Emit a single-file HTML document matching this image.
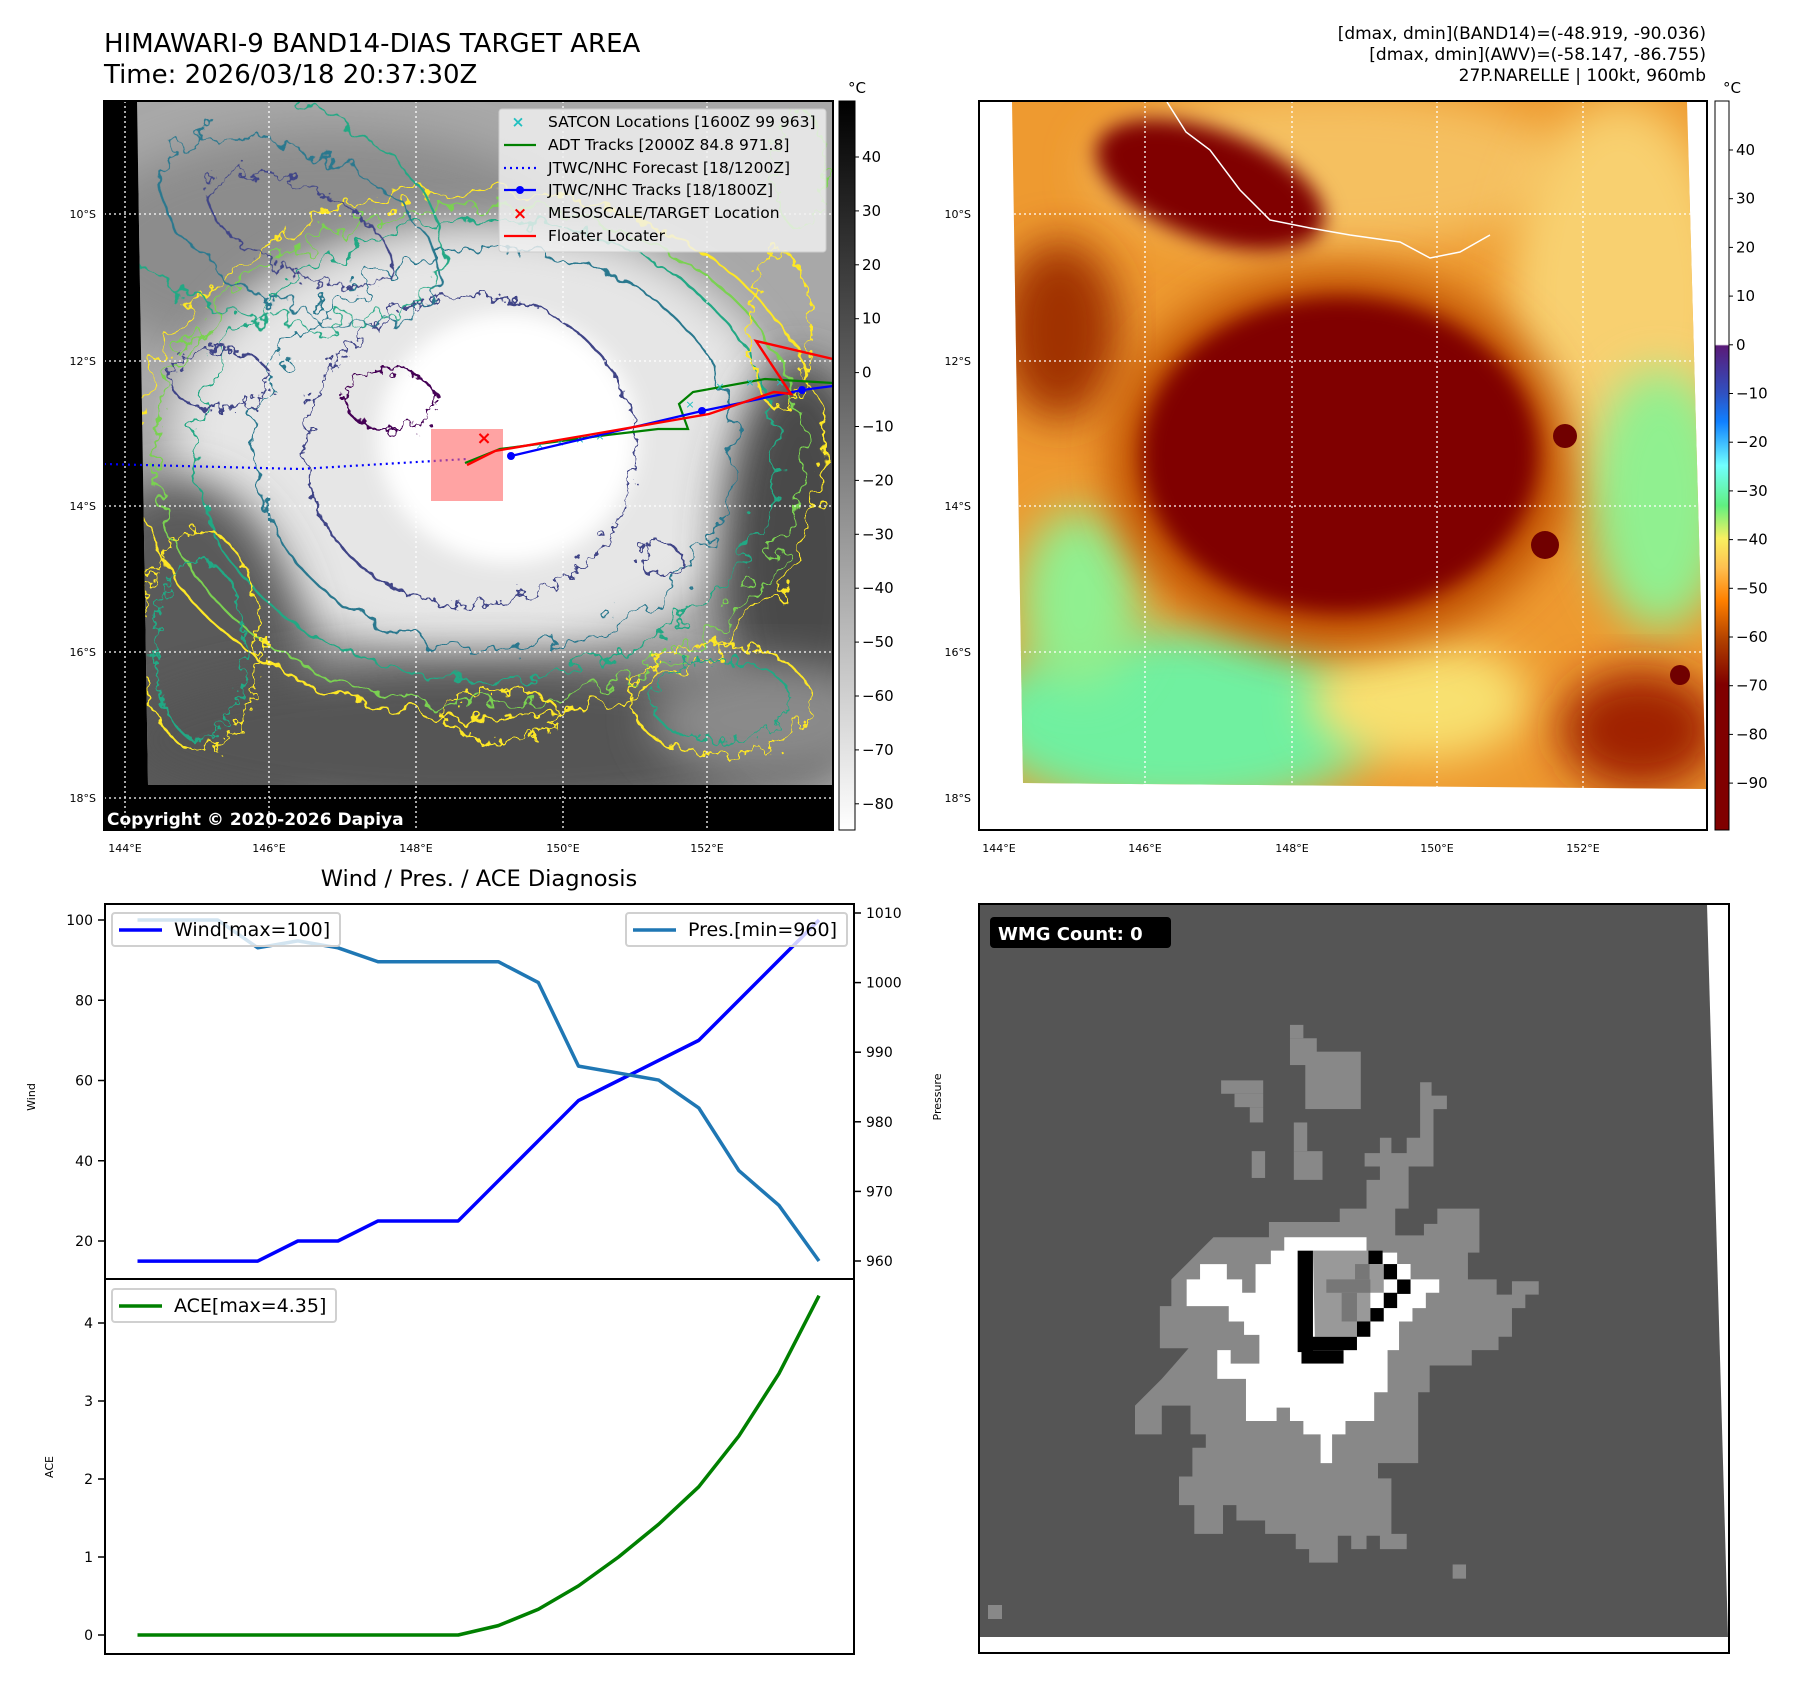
<!DOCTYPE html>
<html><head><meta charset="utf-8"><style>
html,body{margin:0;padding:0;background:#fff}
svg{display:block;font-family:"DejaVu Sans","Liberation Sans",sans-serif}
</style></head><body>
<svg id="root" width="1797" height="1690" viewBox="0 0 1797 1690" xmlns="http://www.w3.org/2000/svg">
<defs>
 <filter id="wob" x="-20%" y="-20%" width="140%" height="140%"><feTurbulence type="fractalNoise" baseFrequency="0.045" numOctaves="3" seed="4"/><feDisplacementMap in="SourceGraphic" scale="40"/></filter>
 <filter id="wob2" x="-20%" y="-20%" width="140%" height="140%"><feTurbulence type="fractalNoise" baseFrequency="0.08" numOctaves="3" seed="9"/><feDisplacementMap in="SourceGraphic" scale="26"/></filter>
 <filter id="bl" x="-30%" y="-30%" width="160%" height="160%"><feGaussianBlur stdDeviation="22"/></filter>
 <filter id="bl2" x="-30%" y="-30%" width="160%" height="160%"><feGaussianBlur stdDeviation="10"/></filter>
 <linearGradient id="cb1" x1="0" y1="0" x2="0" y2="1"><stop offset="0" stop-color="#000"/><stop offset="1" stop-color="#fff"/></linearGradient>
 <linearGradient id="cb2" x1="0" y1="0" x2="0" y2="1">
  <stop offset="0" stop-color="#fff"/><stop offset="0.334" stop-color="#fff"/><stop offset="0.336" stop-color="#5a1a78"/>
  <stop offset="0.40" stop-color="#3050c0"/><stop offset="0.44" stop-color="#1080ff"/><stop offset="0.50" stop-color="#70ffff"/>
  <stop offset="0.555" stop-color="#60f080"/><stop offset="0.60" stop-color="#f8f060"/><stop offset="0.64" stop-color="#ffc050"/>
  <stop offset="0.685" stop-color="#ff8000"/><stop offset="0.74" stop-color="#b04000"/><stop offset="0.80" stop-color="#800000"/><stop offset="1" stop-color="#800000"/>
 </linearGradient>
 <radialGradient id="bright"><stop offset="0" stop-color="#fff"/><stop offset="0.55" stop-color="#f4f4f4"/><stop offset="1" stop-color="#f4f4f4" stop-opacity="0"/></radialGradient>
 <clipPath id="c1"><polygon points="137,101 833,101 833,785 148,785"/></clipPath>
 <clipPath id="c2"><polygon points="1012,102 1687,102 1706,789 1023,783"/></clipPath>
 <clipPath id="c3"><polygon points="979,904 1707,904 1728,1637 979,1637"/></clipPath>
</defs>

<text x="104" y="52" font-size="26">HIMAWARI-9 BAND14-DIAS TARGET AREA</text>
<text x="104" y="83" font-size="26">Time: 2026/03/18 20:37:30Z</text>
<g font-size="17" text-anchor="end">
 <text x="1706" y="39">[dmax, dmin](BAND14)=(-48.919, -90.036)</text>
 <text x="1706" y="60">[dmax, dmin](AWV)=(-58.147, -86.755)</text>
 <text x="1706" y="81">27P.NARELLE | 100kt, 960mb</text>
</g>

<g>
 <rect x="104" y="101" width="729" height="729" fill="#000"/>
 <g clip-path="url(#c1)">
  <rect x="130" y="101" width="710" height="690" fill="#a8a8a8"/>
  <ellipse cx="330" cy="250" rx="260" ry="120" fill="#8c8c8c" filter="url(#bl)"/>
  <ellipse cx="480" cy="440" rx="330" ry="230" fill="url(#bright)"/>
  <ellipse cx="480" cy="440" rx="300" ry="210" fill="#e6e6e6" filter="url(#bl)"/>
  <ellipse cx="180" cy="700" rx="130" ry="220" fill="#5a5a5a" filter="url(#bl)"/>
  <ellipse cx="480" cy="740" rx="360" ry="80" fill="#555" filter="url(#bl)"/>
  <ellipse cx="800" cy="560" rx="80" ry="200" fill="#4a4a4a" filter="url(#bl)"/>
  <ellipse cx="770" cy="720" rx="120" ry="60" fill="#8a8a8a" filter="url(#bl)"/>
  <ellipse cx="508" cy="438" rx="130" ry="125" fill="#fff" filter="url(#bl2)"/>
  <g fill="none" stroke-width="2.2">
   <ellipse cx="480" cy="455" rx="345" ry="265" stroke="#fde725" filter="url(#wob)"/>
   <ellipse cx="480" cy="455" rx="325" ry="250" stroke="#7ad151" filter="url(#wob)"/>
   <ellipse cx="485" cy="450" rx="290" ry="230" stroke="#22a884" filter="url(#wob)"/>
   <ellipse cx="495" cy="450" rx="240" ry="200" stroke="#2a788e" filter="url(#wob)"/>
   <ellipse cx="470" cy="450" rx="165" ry="155" stroke="#414487" filter="url(#wob2)"/>
   <ellipse cx="300" cy="230" rx="100" ry="42" transform="rotate(25 300 230)" stroke="#414487" filter="url(#wob2)"/>
   <ellipse cx="300" cy="230" rx="150" ry="75" transform="rotate(25 300 230)" stroke="#2a788e" filter="url(#wob)"/>
   <ellipse cx="250" cy="200" rx="200" ry="110" transform="rotate(20 250 200)" stroke="#22a884" filter="url(#wob)"/>
   <ellipse cx="390" cy="400" rx="45" ry="30" stroke="#440154" filter="url(#wob2)"/>
   <ellipse cx="220" cy="380" rx="50" ry="30" stroke="#414487" filter="url(#wob2)"/>
   <ellipse cx="200" cy="640" rx="60" ry="110" stroke="#fde725" filter="url(#wob2)"/>
   <ellipse cx="200" cy="650" rx="45" ry="90" stroke="#22a884" filter="url(#wob2)"/>
   <ellipse cx="720" cy="700" rx="90" ry="55" stroke="#fde725" filter="url(#wob2)"/>
   <ellipse cx="720" cy="700" rx="70" ry="40" stroke="#22a884" filter="url(#wob2)"/>
   <ellipse cx="500" cy="715" rx="60" ry="25" stroke="#fde725" filter="url(#wob2)"/>
   <ellipse cx="780" cy="330" rx="30" ry="80" stroke="#fde725" filter="url(#wob2)"/>
   <ellipse cx="800" cy="170" rx="25" ry="60" stroke="#7ad151" filter="url(#wob2)"/>
   <ellipse cx="660" cy="560" rx="22" ry="16" stroke="#414487" filter="url(#wob2)"/>
  </g>
 </g>
 <g stroke="#fff" stroke-width="1.3" stroke-dasharray="2,3">
  <line x1="125" y1="101" x2="125" y2="830"/><line x1="269" y1="101" x2="269" y2="830"/><line x1="416" y1="101" x2="416" y2="830"/><line x1="563" y1="101" x2="563" y2="830"/><line x1="707" y1="101" x2="707" y2="830"/>
  <line x1="104" y1="214" x2="833" y2="214"/><line x1="104" y1="361" x2="833" y2="361"/><line x1="104" y1="506" x2="833" y2="506"/><line x1="104" y1="652" x2="833" y2="652"/><line x1="104" y1="798" x2="833" y2="798"/>
 </g>
 <polyline points="104,464 300,469 467,459" fill="none" stroke="#0000ff" stroke-width="2.2" stroke-dasharray="2,4"/>
 <rect x="431" y="429" width="72" height="72" fill="#ff6666" fill-opacity="0.6"/>
 <polyline points="465,463 500,449 607,435 658,429 688,429 679,404 693,392 765,379 833,383" fill="none" stroke="#008000" stroke-width="2.2"/>
 <g fill="#20c0c0" font-size="11" text-anchor="middle">
  <text x="540" y="449">×</text><text x="560" y="446">×</text><text x="580" y="443">×</text><text x="600" y="440">×</text><text x="690" y="408">×</text><text x="720" y="390">×</text><text x="750" y="386">×</text><text x="780" y="386">×</text>
 </g>
 <polyline points="511,456 702,411 802,390 833,386" fill="none" stroke="#0000ff" stroke-width="2.2"/>
 <g fill="#0000ff"><circle cx="511" cy="456" r="4"/><circle cx="702" cy="411" r="4"/><circle cx="802" cy="390" r="4"/></g>
 <polyline points="467,465 495,451 588,435 709,414 774,392 791,394 756,341 833,359" fill="none" stroke="#ff0000" stroke-width="2.4"/>
 <text x="484" y="444" fill="#ff0000" font-size="18" font-weight="bold" text-anchor="middle">×</text>
 <g>
  <rect x="499" y="109" width="327" height="143" rx="3" fill="#f2f2f2" fill-opacity="0.82" stroke="#ccc"/>
  <g font-size="15.5">
   <text x="518" y="127" fill="#20c0c0" font-weight="bold" text-anchor="middle">×</text><text x="548" y="127">SATCON Locations [1600Z 99 963]</text>
   <line x1="504" y1="145" x2="536" y2="145" stroke="#008000" stroke-width="2.2"/><text x="548" y="150">ADT Tracks [2000Z 84.8 971.8]</text>
   <line x1="504" y1="168" x2="536" y2="168" stroke="#0000ff" stroke-width="2.2" stroke-dasharray="2,4"/><text x="548" y="173">JTWC/NHC Forecast [18/1200Z]</text>
   <line x1="504" y1="190" x2="536" y2="190" stroke="#0000ff" stroke-width="2.2"/><circle cx="520" cy="190" r="4" fill="#0000ff"/><text x="548" y="195">JTWC/NHC Tracks [18/1800Z]</text>
   <text x="520" y="219" fill="#ff0000" font-weight="bold" font-size="17" text-anchor="middle">×</text><text x="548" y="218">MESOSCALE/TARGET Location</text>
   <line x1="504" y1="236" x2="536" y2="236" stroke="#ff0000" stroke-width="2.2"/><text x="548" y="241">Floater Locater</text>
  </g>
 </g>
 <text x="107" y="825" fill="#fff" font-size="17" font-weight="bold">Copyright © 2020-2026 Dapiya</text>
 <rect x="104" y="101" width="729" height="729" fill="none" stroke="#000" stroke-width="2"/>
</g>
<g font-size="11">
 <g text-anchor="end"><text x="96" y="218">10°S</text><text x="96" y="365">12°S</text><text x="96" y="510">14°S</text><text x="96" y="656">16°S</text><text x="96" y="802">18°S</text></g>
 <g text-anchor="middle"><text x="125" y="852">144°E</text><text x="269" y="852">146°E</text><text x="416" y="852">148°E</text><text x="563" y="852">150°E</text><text x="707" y="852">152°E</text></g>
</g>
<g>
 <rect x="839" y="101" width="16" height="729" fill="url(#cb1)" stroke="#000" stroke-width="1"/>
 <text x="848" y="93" font-size="15">°C</text>
 <g font-size="15" id="cb1labels"></g>
</g>

<g>
 <rect x="979" y="101" width="728" height="729" fill="#fff"/>
 <g clip-path="url(#c2)">
  <rect x="1000" y="100" width="720" height="700" fill="#ee9a30"/>
  <ellipse cx="1330" cy="170" rx="240" ry="80" fill="#f5c060" filter="url(#bl)"/>
  <ellipse cx="1620" cy="300" rx="110" ry="200" fill="#f8d070" filter="url(#bl)"/>
  <ellipse cx="1180" cy="720" rx="200" ry="90" fill="#70f0a0" filter="url(#bl)"/>
  <ellipse cx="1080" cy="600" rx="60" ry="90" fill="#90f090" filter="url(#bl)"/>
  <ellipse cx="1660" cy="500" rx="70" ry="130" fill="#90f090" filter="url(#bl)"/>
  <ellipse cx="1420" cy="700" rx="110" ry="60" fill="#f8e070" filter="url(#bl)"/>
  <ellipse cx="1640" cy="730" rx="80" ry="60" fill="#a02000" filter="url(#bl)"/>
  <ellipse cx="1060" cy="330" rx="60" ry="90" fill="#a03000" filter="url(#bl)"/>
  <ellipse cx="1210" cy="185" rx="120" ry="55" transform="rotate(20 1210 185)" fill="#800000" filter="url(#bl2)"/>
  <ellipse cx="1340" cy="460" rx="230" ry="190" fill="#c05000" filter="url(#bl)"/>
  <ellipse cx="1340" cy="455" rx="198" ry="158" fill="#800000" filter="url(#bl2)"/>
  <circle cx="1565" cy="436" r="12" fill="#700000"/><circle cx="1545" cy="545" r="14" fill="#700000"/><circle cx="1680" cy="675" r="10" fill="#700000"/>
 </g>
 <g stroke="#fff" stroke-width="1.3" stroke-dasharray="2,3">
  <line x1="999" y1="101" x2="999" y2="830"/><line x1="1145" y1="101" x2="1145" y2="830"/><line x1="1292" y1="101" x2="1292" y2="830"/><line x1="1437" y1="101" x2="1437" y2="830"/><line x1="1583" y1="101" x2="1583" y2="830"/>
  <line x1="979" y1="214" x2="1707" y2="214"/><line x1="979" y1="361" x2="1707" y2="361"/><line x1="979" y1="506" x2="1707" y2="506"/><line x1="979" y1="652" x2="1707" y2="652"/>
 </g>
 <polyline points="1167,102 1186,132 1210,150 1240,190 1270,220 1310,228 1350,235 1400,242 1430,258 1460,252 1490,235" fill="none" stroke="#fff" stroke-width="1.5"/>
 <rect x="979" y="101" width="728" height="729" fill="none" stroke="#000" stroke-width="2"/>
</g>
<g font-size="11">
 <g text-anchor="end"><text x="971" y="218">10°S</text><text x="971" y="365">12°S</text><text x="971" y="510">14°S</text><text x="971" y="656">16°S</text><text x="971" y="802">18°S</text></g>
 <g text-anchor="middle"><text x="999" y="852">144°E</text><text x="1145" y="852">146°E</text><text x="1292" y="852">148°E</text><text x="1437" y="852">150°E</text><text x="1583" y="852">152°E</text></g>
</g>
<g>
 <rect x="1715" y="101" width="14" height="729" fill="url(#cb2)" stroke="#000" stroke-width="1"/>
 <text x="1723" y="93" font-size="15">°C</text>
 <g font-size="15" id="cb2labels"></g>
</g>

<text x="479" y="886" font-size="22.5" text-anchor="middle">Wind / Pres. / ACE Diagnosis</text>
<g id="chart"></g>

<g>
 <rect x="979" y="904" width="750" height="749" fill="#fff"/>
 <g clip-path="url(#c3)">
  <rect x="979" y="904" width="760" height="740" fill="#555"/>
  <g transform="translate(980,1000) scale(0.3827)">
   <polygon fill="#888" points="405,1060 440,1025 475,990 510,950 545,910 470,910 470,800 500,800 500,730 540,690 575,655 610,620 755,620 755,580 940,580 940,545 1010,545 1010,470 1045,470 1045,435 1005,435 1005,400 1045,400 1045,360 1075,360 1075,400 1115,400 1115,360 1150,360 1150,215 1180,215 1180,250 1220,250 1220,285 1185,285 1185,435 1120,435 1120,545 1085,545 1085,615 1160,615 1160,585 1195,585 1195,545 1305,545 1305,660 1275,660 1275,730 1350,730 1350,770 1390,770 1390,735 1460,735 1460,770 1425,770 1425,805 1390,805 1390,880 1355,880 1355,915 1285,915 1285,955 1175,955 1175,1025 1145,1025 1145,1210 1040,1210 1040,1250 1075,1250 1075,1395 1115,1395 1115,1435 1045,1435 1045,1400 1010,1400 1010,1435 970,1435 970,1400 935,1400 935,1470 860,1470 860,1435 825,1435 825,1395 745,1395 745,1360 670,1360 670,1320 635,1320 635,1395 560,1395 560,1320 520,1320 520,1245 555,1245 555,1170 590,1170 590,1135 550,1135 550,1060 475,1060 475,1135 405,1135"/>
   <g fill="#888"><rect x="810" y="65" width="35" height="35"/><rect x="810" y="100" width="70" height="70"/><rect x="850" y="135" width="145" height="150"/><rect x="630" y="210" width="110" height="35"/><rect x="665" y="245" width="75" height="35"/><rect x="705" y="280" width="35" height="40"/><rect x="820" y="320" width="35" height="75"/><rect x="820" y="395" width="75" height="75"/><rect x="710" y="395" width="35" height="70"/><rect x="1235" y="1475" width="35" height="37"/></g>
   <polygon fill="#fff" points="540,730 575,730 575,690 645,690 645,730 685,730 685,765 720,765 720,690 760,690 760,655 795,655 795,620 1010,620 1010,660 1090,660 1090,690 1125,690 1125,730 1200,730 1200,765 1165,765 1165,805 1130,805 1130,840 1095,840 1095,915 1065,915 1065,1025 1030,1025 1030,1100 955,1100 955,1135 920,1135 920,1210 890,1210 890,1135 845,1135 845,1100 810,1100 810,1065 775,1065 775,1100 695,1100 695,990 620,990 620,915 655,915 655,950 730,950 730,875 690,875 690,840 650,840 650,800 540,800"/>
   <polygon fill="#999" points="870,655 1015,655 1015,690 1055,690 1055,765 1020,765 1020,840 985,840 985,880 875,880"/>
   <g fill="#777"><rect x="905" y="730" width="115" height="35"/><rect x="945" y="765" width="40" height="75"/><rect x="980" y="690" width="38" height="40"/></g>
   <g fill="#000"><rect x="830" y="655" width="40" height="265"/><rect x="840" y="880" width="145" height="35"/><rect x="840" y="915" width="110" height="35"/><rect x="985" y="840" width="35" height="40"/><rect x="1020" y="805" width="35" height="35"/><rect x="1055" y="765" width="35" height="40"/><rect x="1090" y="730" width="35" height="38"/><rect x="1055" y="690" width="35" height="40"/><rect x="1015" y="655" width="37" height="35"/></g>
   <rect x="1090" y="690" width="35" height="40" fill="#fff"/>
  </g>
  <rect x="988" y="1605" width="14" height="14" fill="#888"/>
 </g>
 <rect x="990" y="917" width="181" height="31" rx="4" fill="#000"/>
 <text x="998" y="940" fill="#fff" font-size="18" font-weight="bold">WMG Count: 0</text>
 <rect x="979" y="904" width="750" height="749" fill="none" stroke="#000" stroke-width="2"/>
</g>

<script>
const cb1Ticks = [40,30,20,10,0,-10,-20,-30,-40,-50,-60,-70,-80];
const cb2Ticks = [40,30,20,10,0,-10,-20,-30,-40,-50,-60,-70,-80,-90];
const wind = [15,15,15,15,20,20,25,25,25,35,45,55,60,65,70,80,90,100];
const pres = [1009,1009,1009,1005,1006,1005,1003,1003,1003,1003,1000,988,987,986,982,973,968,960];
const ace  = [0,0,0,0,0,0,0,0,0,0.12,0.33,0.63,1.0,1.42,1.9,2.55,3.35,4.35];
const windTicks = [20,40,60,80,100];
const presTicks = [960,970,980,990,1000,1010];
const aceTicks = [0,1,2,3,4];

const NS='http://www.w3.org/2000/svg';
function mk(tag, attrs, parent, txt){const e=document.createElementNS(NS,tag);for(const k in attrs)e.setAttribute(k,attrs[k]);if(txt!==undefined)e.textContent=txt;parent.appendChild(e);return e;}
function lab(v){return v<0?'\u2212'+(-v):String(v);}
const g1=document.getElementById('cb1labels');
cb1Ticks.forEach(v=>{const y=157+(40-v)*5.39;mk('line',{x1:855,x2:859,y1:y,y2:y,stroke:'#000'},g1);const t=mk('text',{x:862,y:y+5},g1,lab(v));

});
const g2=document.getElementById('cb2labels');
cb2Ticks.forEach(v=>{const y=150+(40-v)*4.87;mk('line',{x1:1729,x2:1733,y1:y,y2:y,stroke:'#000'},g2);const t=mk('text',{x:1736,y:y+5},g2,lab(v));

});

const L=105,R=854,T=904,M=1279,B=1654;
const xs=i=>137.5+i*(819-137.5)/(wind.length-1);
const yW=v=>1241-(v-20)*80.25/20;
const yP=v=>1261-(v-960)*6.96;
const yA=v=>1635-v*78;
const C=document.getElementById('chart');

function axisTicks(ticks,fy,side,cls){
 ticks.forEach(v=>{const y=fy(v);
  if(side==='l'){mk('line',{x1:L-7,x2:L,y1:y,y2:y,stroke:'#000','stroke-width':1.5},C);
   const t=mk('text',{x:L-12,y:y+5,'font-size':14,'text-anchor':'end'},C,String(v));
   
   }
  else{mk('line',{x1:R,x2:R+7,y1:y,y2:y,stroke:'#000','stroke-width':1.5},C);
   const t=mk('text',{x:R+12,y:y+5,'font-size':14},C,String(v));
   
   }
 });
}
axisTicks(windTicks,yW,'l','wind-tick');
axisTicks(presTicks,yP,'r','pressure-tick');
axisTicks(aceTicks,yA,'l','ace-tick');

function line(arr,fy,color,name){
 const p=mk('polyline',{points:arr.map((v,i)=>xs(i)+','+fy(v)).join(' '),fill:'none',stroke:color,'stroke-width':3.5,'stroke-linejoin':'round'},C);
 
 
}
line(wind,yW,'#0000ff','wind-line');
line(pres,yP,'#1f77b4','pressure-line');
line(ace,yA,'#008000','ace-line');

mk('rect',{x:L,y:T,width:R-L,height:B-T,fill:'none',stroke:'#000','stroke-width':2},C);
mk('line',{x1:L,x2:R,y1:M,y2:M,stroke:'#000','stroke-width':2},C);

function legend(x,y,w,color,txt,name){
 const g=mk('g',{},C);
 
 
 mk('rect',{x:x,y:y,width:w,height:33,rx:3,fill:'#fff','fill-opacity':0.8,stroke:'#d0d0d0','stroke-width':2},g);
 mk('line',{x1:x+7,x2:x+50,y1:y+17,y2:y+17,stroke:color,'stroke-width':3.5},g);
 mk('text',{x:x+62,y:y+23,'font-size':19},g,txt);
}
legend(112,913,228,'#0000ff','Wind[max=100]','wind-legend');
legend(626,913,221,'#1f77b4','Pres.[min=960]','pressure-legend');
legend(112,1289,224,'#008000','ACE[max=4.35]','ace-legend');

let t=mk('text',{x:35,y:1097,'font-size':11,'text-anchor':'middle',transform:'rotate(-90 35 1097)'},C,'Wind');


t=mk('text',{x:941,y:1097,'font-size':11,'text-anchor':'middle',transform:'rotate(-90 941 1097)'},C,'Pressure');


t=mk('text',{x:53,y:1467,'font-size':11,'text-anchor':'middle',transform:'rotate(-90 53 1467)'},C,'ACE');


</script>
</svg>
</body></html>
